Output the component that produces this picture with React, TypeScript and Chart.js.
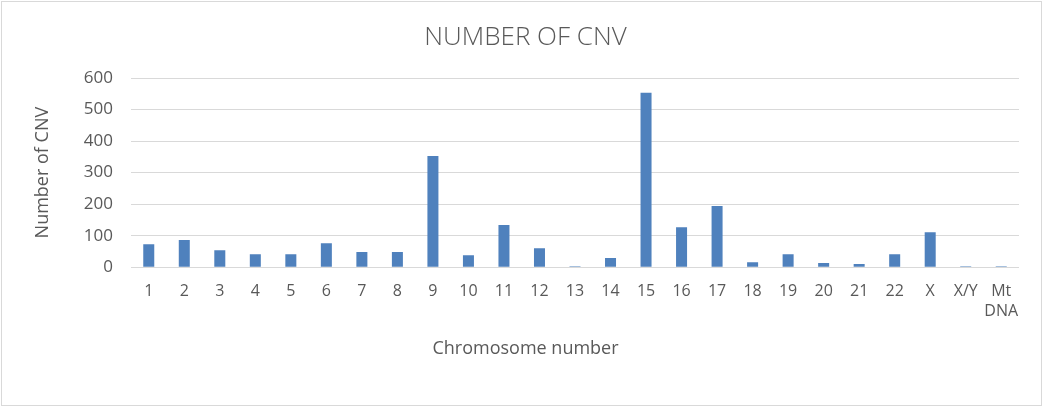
import React, { useEffect, useRef } from "react";
import { Chart, registerables } from "chart.js";

Chart.register(...registerables);

const categories: (string | string[])[] = [
  "1", "2", "3", "4", "5", "6", "7", "8", "9", "10", "11", "12", "13", "14", "15",
  "16", "17", "18", "19", "20", "21", "22", "X", "X/Y", ["Mt", "DNA"],
];
const cnvCounts = [
  73, 86, 54, 41, 41, 76, 48, 48, 353, 38, 134, 60, 3, 29, 553,
  127, 194, 16, 41, 13, 10, 41, 111, 3, 3,
];
const yTicks = [0, 100, 200, 300, 400, 500, 600];

const textColor = "#595959";
const gridColor = "#d9d9d9";
const fontFamily = "'Open Sans', 'Liberation Sans', sans-serif";

const borderPlugin = {
  id: "outerBorder",
  beforeDraw(chart: any) {
    const ctx = chart.ctx;
    ctx.save();
    ctx.fillStyle = "#ffffff";
    ctx.fillRect(0, 0, chart.width, chart.height);
    ctx.strokeStyle = gridColor;
    ctx.lineWidth = 1;
    ctx.strokeRect(1.5, 1.5, 1040, 404);
    ctx.restore();
  },
};

export default function App() {
  const ref = useRef<HTMLCanvasElement | null>(null);

  useEffect(() => {
    if (!ref.current) return;
    const chart = new Chart(ref.current, {
      type: "bar",
      data: {
        labels: categories,
        datasets: [
          {
            label: "Number of CNV",
            data: cnvCounts,
            backgroundColor: "#4F81BD",
            barPercentage: 0.31,
            categoryPercentage: 1,
          },
        ],
      },
      options: {
        animation: false,
        responsive: false,
        maintainAspectRatio: false,
        layout: { padding: { left: 32, right: 25, top: 0, bottom: 0 } },
        plugins: {
          legend: { display: false },
          tooltip: { enabled: false },
          title: {
            display: true,
            text: "NUMBER OF CNV",
            color: textColor,
            font: { family: fontFamily, size: 26, weight: "300" as any },
            padding: { top: 22.4, bottom: 24.4 },
          },
          subtitle: {
            display: true,
            position: "bottom",
            text: "Chromosome number",
            color: textColor,
            font: { family: fontFamily, size: 18 },
            padding: { top: 10, bottom: 48.2 },
          },
        },
        scales: {
          x: {
            grid: { display: false, drawTicks: false },
            border: { display: false },
            ticks: {
              color: textColor,
              font: { family: fontFamily, size: 16 },
              padding: 15,
              maxRotation: 0,
              autoSkip: false,
            },
            afterFit: (s: any) => {
              s.height = 61;
            },
          },
          y: {
            min: 0,
            max: 600,
            afterBuildTicks: (s: any) => {
              s.ticks = yTicks.map((v) => ({ value: v }));
            },
            grid: { color: gridColor, drawTicks: false },
            border: { display: false },
            ticks: {
              color: textColor,
              font: { family: fontFamily, size: 17 },
              padding: 18,
            },
            title: {
              display: true,
              text: "Number of CNV",
              color: textColor,
              font: { family: fontFamily, size: 18 },
              padding: 0,
            },
            afterFit: (s: any) => {
              s.width = 99;
            },
          },
        },
      },
      plugins: [borderPlugin],
    });
    return () => chart.destroy();
  }, []);

  return (
    <div style={{ position: "absolute", left: 0, top: 0, width: 1044, height: 408 }}>
      <canvas ref={ref} width={1044} height={408} style={{ display: "block" }} />
    </div>
  );
}
